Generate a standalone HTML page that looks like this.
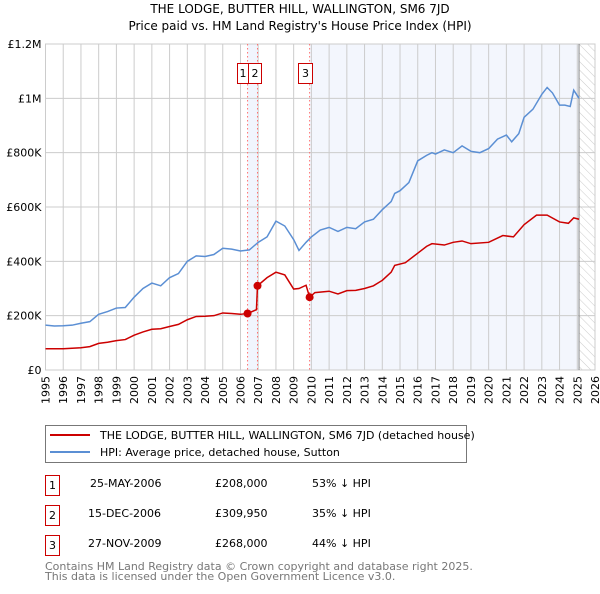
<!DOCTYPE html>
<html><head><meta charset="utf-8"><style>
body{margin:0;background:#fff;font-family:"DejaVu Sans","Liberation Sans",sans-serif;}
svg text{font-family:"DejaVu Sans","Liberation Sans",sans-serif;}
</style></head><body>
<svg id="chart" width="600" height="590" xmlns="http://www.w3.org/2000/svg">
<defs><pattern id="hatch" width="6" height="6" patternUnits="userSpaceOnUse" patternTransform="rotate(-45)"><line x1="0" y1="0" x2="0" y2="6" stroke="#ccc" stroke-width="1"/></pattern></defs>
<text x="300" y="13" text-anchor="middle" font-size="12">THE LODGE, BUTTER HILL, WALLINGTON, SM6 7JD</text>
<text x="300" y="30" text-anchor="middle" font-size="12">Price paid vs. HM Land Registry's House Price Index (HPI)</text>
<g id="plot"></g>
<g>
<rect x="45.5" y="425.5" width="421" height="37" fill="#fff" stroke="#777"/>
<line x1="50" y1="435" x2="90" y2="435" stroke="#cc0000" stroke-width="2"/>
<text x="100" y="439" font-size="11">THE LODGE, BUTTER HILL, WALLINGTON, SM6 7JD (detached house)</text>
<line x1="50" y1="452" x2="90" y2="452" stroke="#5b8fd4" stroke-width="2"/>
<text x="100" y="456" font-size="11">HPI: Average price, detached house, Sutton</text>
</g>
<g font-size="11">
<rect x="45.5" y="475.5" width="14" height="20" fill="#fff" stroke="#cc0000"/><text x="52.5" y="489" text-anchor="middle">1</text>
<text x="90" y="487">25-MAY-2006</text><text x="215" y="487">£208,000</text><text x="312" y="487">53% ↓ HPI</text>
<rect x="45.5" y="505.5" width="14" height="20" fill="#fff" stroke="#cc0000"/><text x="52.5" y="519" text-anchor="middle">2</text>
<text x="88" y="517">15-DEC-2006</text><text x="215" y="517">£309,950</text><text x="312" y="517">35% ↓ HPI</text>
<rect x="45.5" y="535.5" width="14" height="20" fill="#fff" stroke="#cc0000"/><text x="52.5" y="549" text-anchor="middle">3</text>
<text x="88" y="547">27-NOV-2009</text><text x="215" y="547">£268,000</text><text x="312" y="547">44% ↓ HPI</text>
</g>
<text x="45" y="570" font-size="11" fill="#777">Contains HM Land Registry data © Crown copyright and database right 2025.</text>
<text x="45" y="580" font-size="11" fill="#777">This data is licensed under the Open Government Licence v3.0.</text>
</svg>
<script>
const years=[1995,1996,1997,1998,1999,2000,2001,2002,2003,2004,2005,2006,2007,2008,2009,2010,2011,2012,2013,2014,2015,2016,2017,2018,2019,2020,2021,2022,2023,2024,2025,2026];
const yTicks=[0,200000,400000,600000,800000,1000000,1200000];
const yTickLabels=["£0","£200K","£400K","£600K","£800K","£1M","£1.2M"];
const hpiT=[1995,1995.5,1996,1996.5,1997,1997.5,1998,1998.5,1999,1999.5,2000,2000.5,2001,2001.5,2002,2002.5,2003,2003.5,2004,2004.5,2005,2005.5,2006,2006.5,2007,2007.5,2008,2008.5,2009,2009.3,2009.7,2010,2010.5,2011,2011.5,2012,2012.5,2013,2013.5,2014,2014.5,2014.7,2015,2015.5,2016,2016.5,2016.8,2017,2017.5,2018,2018.5,2019,2019.5,2020,2020.5,2021,2021.3,2021.7,2022,2022.5,2023,2023.3,2023.6,2024,2024.3,2024.6,2024.8,2025.1];
const hpiV=[165,162,163,165,172,178,205,215,228,230,268,300,320,310,340,355,400,420,418,425,448,445,438,442,470,490,548,530,480,440,470,490,515,525,510,525,520,545,555,590,620,650,660,690,770,790,800,795,810,800,825,805,800,815,850,865,840,870,930,960,1015,1040,1020,975,975,970,1030,1000].map(v=>v*1000);
const saleT=[1995,1995.5,1996,1996.5,1997,1997.5,1998,1998.5,1999,1999.5,2000,2000.5,2001,2001.5,2002,2002.5,2003,2003.5,2004,2004.5,2005,2005.5,2006,2006.4,2006.9,2006.96,2007.5,2008,2008.5,2009,2009.3,2009.7,2009.9,2010.2,2011,2011.5,2012,2012.5,2013,2013.5,2014,2014.5,2014.7,2015.3,2016,2016.5,2016.8,2017.5,2018,2018.5,2019,2020,2020.8,2021.4,2022,2022.7,2023.3,2024,2024.5,2024.8,2025.1];
const saleV=[78,78,78,80,82,86,98,102,108,112,128,140,150,152,160,168,185,197,198,200,210,208,205,208,222,310,340,360,350,298,300,312,268,285,290,280,292,293,300,310,330,360,385,395,430,455,465,460,470,475,465,470,495,490,535,570,570,545,540,560,555].map(v=>v*1000);
const salesX=[2006.4,2006.96,2009.9];
const salesY=[208000,309950,268000];
const salesLabels=["1","2","3"];
const X0=45.5,X1=595,Y0=370,Y1=44;
const xs=t=>X0+(t-1995)/(2026-1995)*(X1-X0);
const ys=v=>Y0-v/1200000*(Y0-Y1);
const NS="http://www.w3.org/2000/svg";
const g=document.getElementById('plot');
function mk(tag,attrs){const e=document.createElementNS(NS,tag);for(const k in attrs)e.setAttribute(k,attrs[k]);g.appendChild(e);return e;}
let e;
e=mk('rect',{x:xs(2006.4),y:Y1,width:xs(2006.96)-xs(2006.4),height:Y0-Y1,fill:'#f1f5fd'});


e=mk('rect',{x:xs(2009.9),y:Y1,width:xs(2025.1)-xs(2009.9),height:Y0-Y1,fill:'#f3f6fd'});


e=mk('rect',{x:xs(2025.1),y:Y1,width:X1-xs(2025.1),height:Y0-Y1,fill:'url(#hatch)'});


years.forEach(y=>{
 e=mk('line',{x1:xs(y),x2:xs(y),y1:Y1,y2:Y0,stroke:'#ccc','stroke-width':1});
 
 
 e=mk('text',{x:0,y:0,'font-size':11,'text-anchor':'end',transform:`translate(${xs(y)+4},${Y0+6}) rotate(-90)`});
 e.textContent=y;
 
 
});
yTicks.forEach((v,i)=>{
 e=mk('line',{x1:X0,x2:X1,y1:ys(v),y2:ys(v),stroke:'#ccc','stroke-width':1});
 
 
 e=mk('text',{x:X0-4,y:ys(v)+4,'font-size':11,'text-anchor':'end'});
 e.textContent=yTickLabels[i];
 
 
});
e=mk('rect',{x:X0,y:Y1,width:X1-X0,height:Y0-Y1,fill:'none',stroke:'#ccc'});


e=mk('line',{x1:xs(2025.1),x2:xs(2025.1),y1:Y1,y2:Y0,stroke:'#888','stroke-width':1});


salesX.forEach((t,i)=>{
 e=mk('line',{x1:xs(t),x2:xs(t),y1:Y1,y2:Y0,stroke:'#ff7070','stroke-width':1,'stroke-dasharray':'1.5,2.5'});
 
 
});
e=mk('polyline',{points:hpiT.map((t,i)=>xs(t)+','+ys(hpiV[i])).join(' '),fill:'none',stroke:'#5b8fd4','stroke-width':1.5});


e=mk('polyline',{points:saleT.map((t,i)=>xs(t)+','+ys(saleV[i])).join(' '),fill:'none',stroke:'#cc0000','stroke-width':1.5});


const boxL=[xs(salesX[0])-11,xs(salesX[0]),xs(salesX[2])-12];
const boxW=[11,13,14];
salesX.forEach((t,i)=>{
 e=mk('circle',{cx:xs(t),cy:ys(salesY[i]),r:4,fill:'#cc0000'});
 
 
 e=mk('rect',{x:Math.round(boxL[i])+0.5,y:63.5,width:boxW[i],height:20,fill:'#fff',stroke:'#cc0000'});
 
 
 e=mk('text',{x:Math.round(boxL[i])+0.5+boxW[i]/2,y:77,'font-size':11,'text-anchor':'middle'});
 e.textContent=salesLabels[i];
 
 
});
</script>
</body></html>
